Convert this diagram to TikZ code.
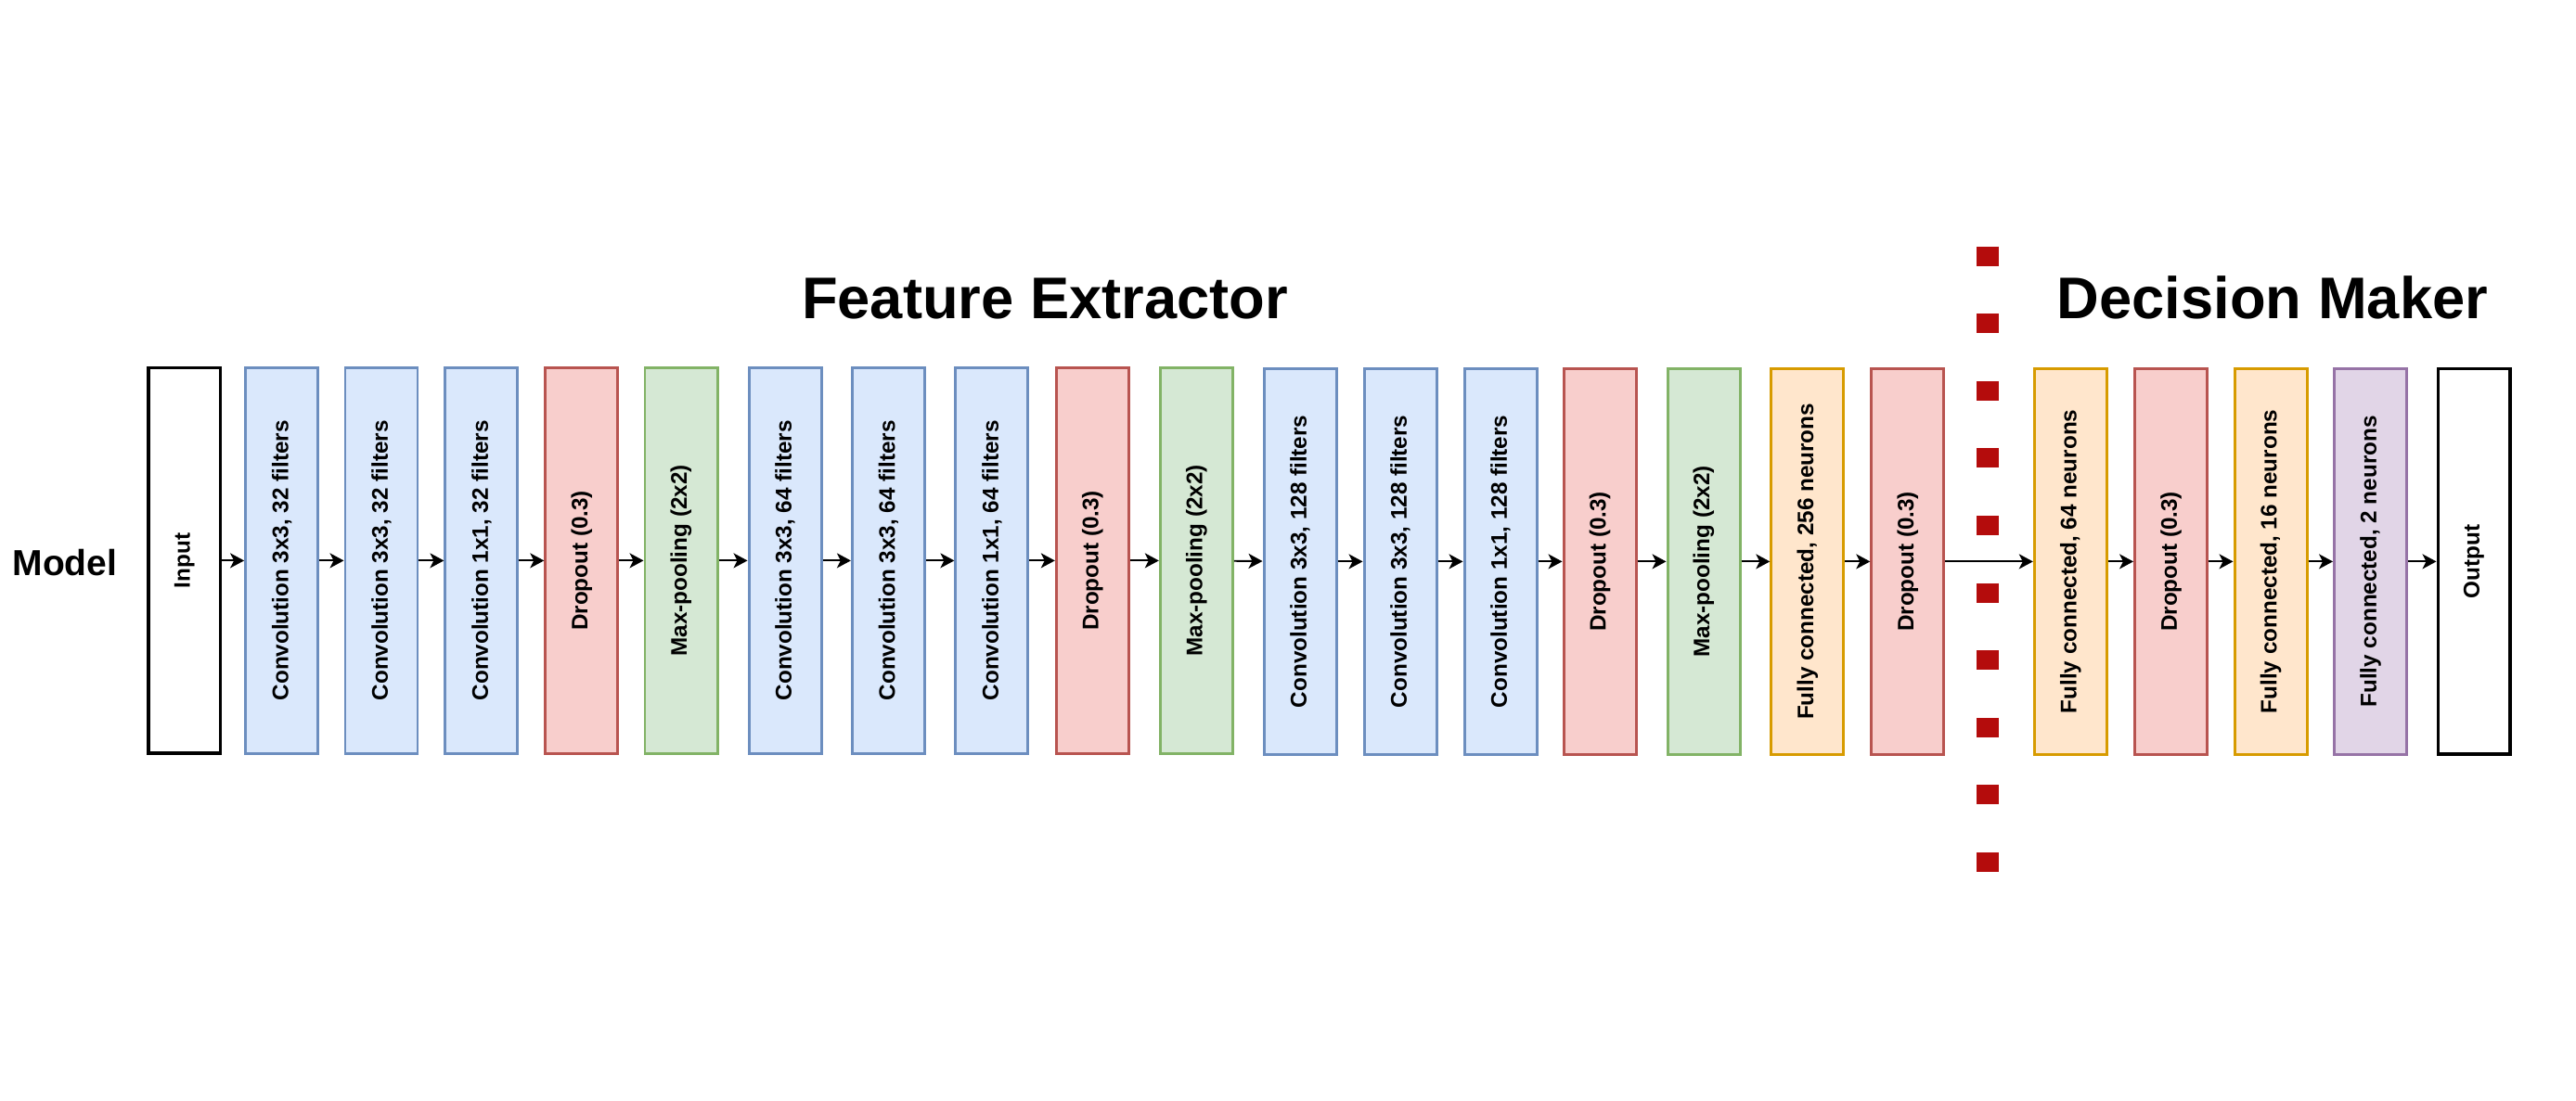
\documentclass[tikz,border=0pt]{standalone}
\usepackage{fontspec}
\setmainfont{Liberation Sans}
\usepackage{xcolor}
\usepackage{tikz}
\usetikzlibrary{arrows.meta}
\definecolor{convfill}{HTML}{DAE8FC}
\definecolor{convline}{HTML}{6C8EBF}
\definecolor{dropfill}{HTML}{F8CECC}
\definecolor{dropline}{HTML}{B85450}
\definecolor{poolfill}{HTML}{D5E8D4}
\definecolor{poolline}{HTML}{82B366}
\definecolor{fcfill}{HTML}{FFE6CC}
\definecolor{fcline}{HTML}{D79B00}
\definecolor{lastfill}{HTML}{E1D5E7}
\definecolor{lastline}{HTML}{9673A6}
\definecolor{sepred}{HTML}{B40C0C}
\tikzset{
  layer/.style={draw, line width=0.85pt, rotate=90, inner sep=0pt,
    minimum width=4.16cm, minimum height=0.78cm,
    font=\bfseries\fontsize{6.9}{8}\selectfont},
  iobox/.style={layer, draw=black, fill=white, line width=1pt,
    minimum width=4.155cm, minimum height=0.775cm},
  convbox/.style={layer, draw=convline, fill=convfill},
  dropbox/.style={layer, draw=dropline, fill=dropfill},
  poolbox/.style={layer, draw=poolline, fill=poolfill},
  fcbox/.style={layer, draw=fcline, fill=fcfill},
  lastbox/.style={layer, draw=lastline, fill=lastfill},
  arr/.style={-{Stealth[length=0.15cm, width=0.16cm, inset=0.04cm]}, line width=0.55pt},
  divider/.style={draw=sepred, line width=0.24cm, dash pattern=on 0.21cm off 0.516cm},
  title/.style={font=\bfseries\fontsize{18}{21}\selectfont, inner sep=0pt},
  sidelab/.style={font=\bfseries\fontsize{11.1}{13}\selectfont, inner sep=0pt},
}
\begin{document}
\begin{tikzpicture}
  \useasboundingbox (0,0) rectangle (27.76,11.86);

  % headings
  \node[sidelab, anchor=base] (model) at (0.70,5.65) {Model};
  \node[title, anchor=base] (fe) at (11.26,8.425) {Feature Extractor};
  \node[title, anchor=base] (dm) at (24.49,8.425) {Decision Maker};

  % feature extractor
  \node[iobox]   (in) at (1.989,5.816) {Input};
  \node[convbox] (c1) at (3.036,5.816) {Convolution 3x3, 32 filters};
  \node[convbox] (c2) at (4.110,5.816) {Convolution 3x3, 32 filters};
  \node[convbox] (c3) at (5.189,5.816) {Convolution 1x1, 32 filters};
  \node[dropbox] (d1) at (6.268,5.816) {Dropout (0.3)};
  \node[poolbox] (p1) at (7.340,5.816) {Max-pooling (2x2)};
  \node[convbox] (c4) at (8.460,5.816) {Convolution 3x3, 64 filters};
  \node[convbox] (c5) at (9.574,5.816) {Convolution 3x3, 64 filters};
  \node[convbox] (c6) at (10.689,5.816) {Convolution 1x1, 64 filters};
  \node[dropbox] (d2) at (11.773,5.816) {Dropout (0.3)};
  \node[poolbox] (p2) at (12.893,5.816) {Max-pooling (2x2)};
  \node[convbox] (c7) at (14.010,5.806) {Convolution 3x3, 128 filters};
  \node[convbox] (c8) at (15.090,5.806) {Convolution 3x3, 128 filters};
  \node[convbox] (c9) at (16.170,5.806) {Convolution 1x1, 128 filters};
  \node[dropbox] (d3) at (17.240,5.806) {Dropout (0.3)};
  \node[poolbox] (p3) at (18.360,5.806) {Max-pooling (2x2)};
  \node[fcbox]   (f1) at (19.478,5.806) {Fully connected, 256 neurons};
  \node[dropbox] (d4) at (20.558,5.806) {Dropout (0.3)};

  % decision maker
  \node[fcbox]   (f2) at (22.313,5.806) {Fully connected, 64 neurons};
  \node[dropbox] (d5) at (23.395,5.806) {Dropout (0.3)};
  \node[fcbox]   (f3) at (24.470,5.806) {Fully connected, 16 neurons};
  \node[lastbox] (f4) at (25.545,5.806) {Fully connected, 2 neurons};
  \node[iobox]   (out) at (26.660,5.806) {Output};

  % split between the two parts
  \coordinate (sepTop) at (21.42,9.204);
  \coordinate (sepBot) at (21.42,2.46);
  \draw[divider] (sepTop) -- (sepBot);

  \foreach \a/\b in {in/c1, c1/c2, c2/c3, c3/d1, d1/p1, p1/c4, c4/c5, c5/c6,
      c6/d2, d2/p2, p2/c7, c7/c8, c8/c9, c9/d3, d3/p3, p3/f1, f1/d4, d4/f2,
      f2/d5, d5/f3, f3/f4, f4/out}
    \draw[arr] (\a) -- (\b);
\end{tikzpicture}
\end{document}
